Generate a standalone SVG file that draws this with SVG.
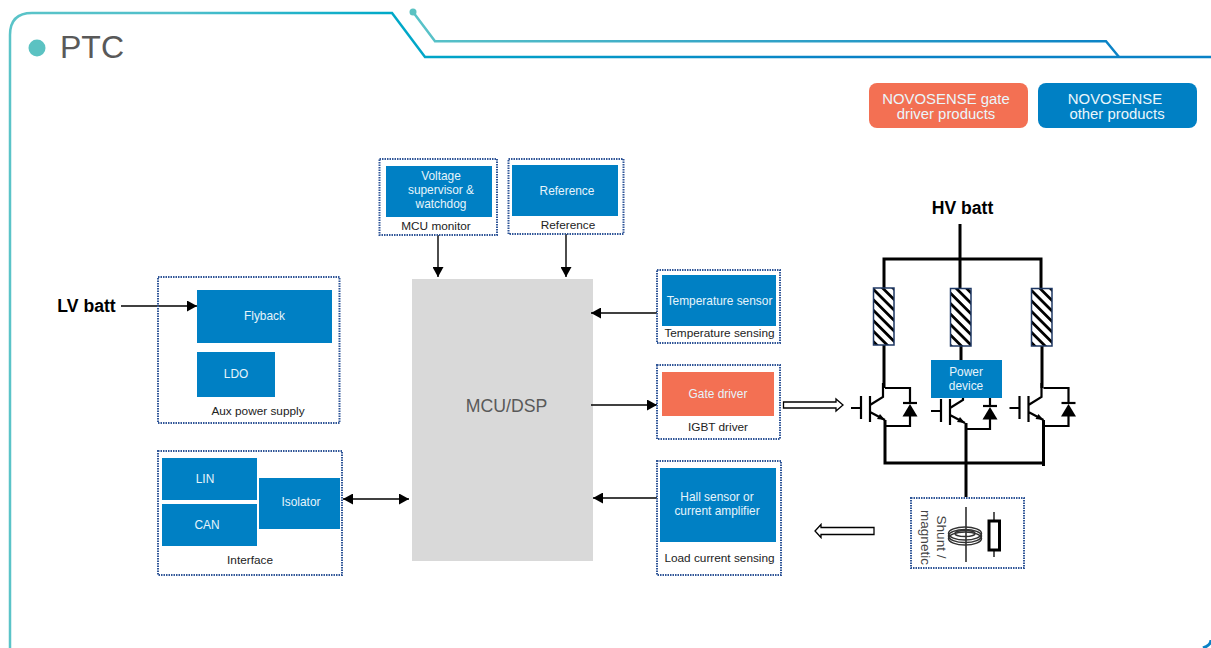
<svg xmlns="http://www.w3.org/2000/svg" xmlns:xlink="http://www.w3.org/1999/xlink" width="1211" height="648" viewBox="0 0 1211 648">
<style>
text{font-family:"Liberation Sans",Arial,sans-serif;text-anchor:middle}
.blue{fill:#0080C4}
.orange{fill:#F37053}
.dot{fill:none;stroke:#2F5597;stroke-width:2;stroke-dasharray:1.5 1}
.w{fill:#E6F4FB;font-size:11.9px}
.k{fill:#222;font-size:11.8px}
.lg{fill:#EAF6FB;font-size:14.9px}
.b{fill:#000;font-size:17.6px;font-weight:bold}
.c{fill:none;stroke:#000;stroke-width:1.4}
.p{fill:none;stroke:#000;stroke-width:3}
.t{fill:none;stroke:#000;stroke-width:2.2}
.h{fill:#fff;stroke:#000;stroke-width:1.3}
.res{fill:url(#hatch);stroke:#1F3864;stroke-width:1.5}
</style>
<defs>
<linearGradient id="fr" gradientUnits="userSpaceOnUse" x1="0" y1="0" x2="1211" y2="0">
<stop offset="0" stop-color="#5BC4C8"/><stop offset="0.15" stop-color="#4FBFCB"/><stop offset="0.32" stop-color="#00A9C8"/><stop offset="0.7" stop-color="#0A82C6"/><stop offset="1" stop-color="#0A82C6"/>
</linearGradient>
<linearGradient id="fr2" gradientUnits="userSpaceOnUse" x1="400" y1="0" x2="1120" y2="0">
<stop offset="0" stop-color="#5BC4C8"/><stop offset="1" stop-color="#0A82C6"/>
</linearGradient>
<pattern id="hatch" patternUnits="userSpaceOnUse" width="7.4" height="7.4" patternTransform="rotate(45)">
<rect width="7.4" height="7.4" fill="#fff"/><rect width="7.4" height="2.800" fill="#000"/>
</pattern>
<marker id="a" markerUnits="userSpaceOnUse" markerWidth="11" markerHeight="11" refX="10" refY="5.500" orient="auto-start-reverse">
<path d="M0 0L10 5.500L0 11Z" fill="#000"/>
</marker>
<g id="igbt">
<path class="t" d="M851 408H861M861 396V419M870 396V422M870 405L883 397V383M870 412L885 420"/>
<path d="M885 420L877 419L880 414Z" fill="#000"/>
<path class="t" d="M885 388H910V403M910 416V426H885"/>
<path class="t" d="M903 403H917"/>
<path d="M910 404L917.500 416.500H902.500Z" fill="#000"/>
</g>
</defs>

<g id="frame" fill="none" stroke="url(#fr)" stroke-width="2.500">
<path d="M10 648V35Q10 13 32 13H392L425 57H1211"/>
<path stroke-width="3" d="M1203 648Q1211 645 1211 640"/>
<path stroke="url(#fr2)" d="M413 12L435 41.300H1106L1119 57"/>
<circle cx="413" cy="12" r="3.500" fill="#5BC2C2" stroke="none"/>
</g>
<g id="title">
<circle cx="37" cy="48" r="8.500" fill="#5BC2C2"/>
<text x="92" y="58" font-size="32" fill="#595959">PTC</text>
</g>
<g id="legend-gate">
<rect class="orange" x="869" y="83" width="159" height="45" rx="8"/>
<text class="lg" x="946" y="104">NOVOSENSE gate</text>
<text class="lg" x="946" y="119">driver products</text>
</g>
<g id="legend-other">
<rect class="blue" x="1038" y="83" width="159" height="45" rx="8"/>
<text class="lg" x="1115" y="104">NOVOSENSE</text>
<text class="lg" x="1117" y="119">other products</text>
</g>
<g id="mcu">
<rect x="412" y="279" width="181" height="282" fill="#D9D9D9"/>
<text x="506.500" y="412" font-size="17.700" fill="#595959">MCU/DSP</text>
</g>

<g id="connectors">
<path class="c" marker-end="url(#a)" d="M121 306H197"/>
<path class="c" marker-end="url(#a)" d="M438 235V277"/>
<path class="c" marker-end="url(#a)" d="M566 234V277"/>
<path class="c" marker-end="url(#a)" d="M657 313H591"/>
<path class="c" marker-end="url(#a)" d="M591 405H657"/>
<path class="c" marker-end="url(#a)" d="M657 498H593"/>
<path class="c" marker-start="url(#a)" marker-end="url(#a)" d="M343 499H409"/>
<path class="h" d="M783.500 402H836V399L843 405L836 411V408H783.500Z"/>
<path class="h" d="M874 527.500H821V524.500L815 531L821 537.500V534.500H874Z"/>
<path class="p" d="M960 224V288M884 288V259H1041V288M884 345V388M885 420V463H1043.500M1043.500 420V466M961 346V360M1042 346V388M966 423V497"/>
</g>

<g id="lv-batt"><text class="b" x="86.500" y="312">LV batt</text></g>
<g id="hv-batt"><text class="b" x="962.500" y="214">HV batt</text></g>

<g id="aux-power">
<rect class="dot" x="158" y="277" width="181.500" height="146"/>
<rect class="blue" x="197" y="290" width="135" height="53"/>
<text class="w" x="264.500" y="320">Flyback</text>
<rect class="blue" x="197" y="352" width="78" height="45"/>
<text class="w" x="236" y="378">LDO</text>
<text class="k" x="258" y="415">Aux power supply</text>
</g>
<g id="interface">
<rect class="dot" x="158" y="451" width="184" height="124"/>
<rect class="blue" x="162" y="458" width="95" height="42"/>
<text class="w" x="205" y="483">LIN</text>
<rect class="blue" x="162" y="504" width="95" height="42"/>
<text class="w" x="207" y="529">CAN</text>
<rect class="blue" x="259" y="478" width="81" height="51"/>
<text class="w" x="301" y="506">Isolator</text>
<text class="k" x="250" y="564">Interface</text>
</g>
<g id="mcu-monitor">
<rect class="dot" x="379.500" y="159" width="117.500" height="76"/>
<rect class="blue" x="386" y="166" width="106" height="51"/>
<text class="w" x="441" y="180">Voltage</text>
<text class="w" x="441" y="194">supervisor &amp;</text>
<text class="w" x="441" y="208">watchdog</text>
<text class="k" x="436" y="230">MCU monitor</text>
</g>
<g id="reference">
<rect class="dot" x="508.500" y="159" width="115" height="75"/>
<rect class="blue" x="512" y="165" width="106" height="51"/>
<text class="w" x="567" y="195">Reference</text>
<text class="k" x="568" y="229">Reference</text>
</g>
<g id="temp-sensing">
<rect class="dot" x="657" y="270" width="123" height="73"/>
<rect class="blue" x="662" y="275" width="114" height="51"/>
<text class="w" x="719.500" y="305">Temperature sensor</text>
<text class="k" x="719.500" y="337">Temperature sensing</text>
</g>
<g id="igbt-driver">
<rect class="dot" x="657" y="365" width="123" height="74"/>
<rect class="orange" x="662" y="372" width="112" height="44"/>
<text class="w" x="718" y="398">Gate driver</text>
<text class="k" x="718" y="431">IGBT driver</text>
</g>
<g id="load-sensing">
<rect class="dot" x="657" y="461" width="124" height="114"/>
<rect class="blue" x="660" y="468" width="116" height="74"/>
<text class="w" x="717" y="501">Hall sensor or</text>
<text class="w" x="717" y="515">current amplifier</text>
<text class="k" x="719.500" y="562">Load current sensing</text>
</g>

<g id="r1"><rect class="res" x="873.500" y="288" width="20.500" height="57"/></g>
<g id="r2"><rect class="res" x="950.500" y="288.500" width="20.500" height="57.500"/></g>
<g id="r3"><rect class="res" x="1031.500" y="288.500" width="20.500" height="57.500"/></g>
<g id="q1"><use href="#igbt"/></g>
<g id="q2"><use href="#igbt" transform="translate(80 3)"/></g>
<g id="q3"><use href="#igbt" transform="translate(158.500 0)"/></g>
<g id="power-device">
<rect class="blue" x="931" y="360" width="71" height="38"/>
<text class="w" x="966" y="376">Power</text>
<text class="w" x="966" y="390">device</text>
</g>
<g id="shunt">
<rect class="dot" x="911" y="498" width="113" height="70"/>
<text font-size="13.500" fill="#444" transform="translate(936.500 537) rotate(90)">Shunt /</text>
<text font-size="13.500" fill="#444" transform="translate(921 537.500) rotate(90)">magnetic</text>
<path d="M966 507V562M994 512V557" stroke="#000" stroke-width="1.300" fill="none"/>
<g fill="none" stroke="#333" stroke-width="1.500">
<ellipse cx="965" cy="533.500" rx="16.500" ry="6.500"/>
<ellipse cx="965" cy="536" rx="16.500" ry="6.500"/>
<ellipse cx="965" cy="538.500" rx="16.500" ry="6.500"/>
<ellipse cx="965" cy="533.500" rx="10" ry="3"/>
</g>
<rect x="989" y="521" width="10.500" height="29" fill="#fff" stroke="#000" stroke-width="3"/>
</g>
</svg>
